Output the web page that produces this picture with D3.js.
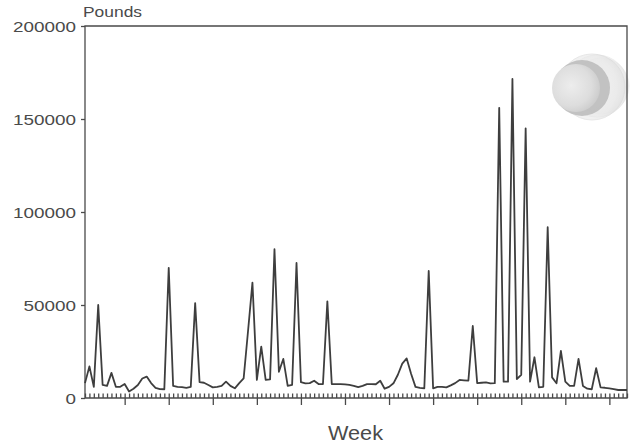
<!DOCTYPE html>
<html>
<head>
<meta charset="utf-8">
<script src="https://cdn.jsdelivr.net/npm/d3@7"></script>
<style>
  body { margin: 0; background: #ffffff; }
  svg { display: block; }
</style>
</head>
<body>
<svg id="chart" width="631" height="447"></svg>
<script>
// Weekly shipments, in pounds
const weeks = d3.range(1, 125);
const pounds = [
  8000, 17000, 6000, 50000, 7000, 6500, 13500, 6000, 6000, 7500,
  3500, 5000, 7000, 10500, 11500, 8000, 5500, 4800, 4700, 70000,
  6500, 6000, 5800, 5500, 6000, 51000, 8500, 8200, 7000, 5700,
  6000, 6500, 8800, 6500, 5200, 8000, 10500, 36000, 62000, 9700,
  27600, 9700, 10000, 80000, 14100, 21000, 6500, 7000, 72600, 8500,
  7900, 8000, 9300, 7500, 7500, 52000, 7500, 7500, 7500, 7300,
  7000, 6500, 5800, 6500, 7500, 7500, 7400, 9300, 5000, 6000,
  7900, 12500, 18500, 21300, 13000, 6000, 5500, 5200, 68300, 5200,
  6000, 6000, 5700, 6800, 8000, 9700, 9500, 9300, 38700, 8000,
  8200, 8400, 7900, 8000, 156000, 8800, 8800, 171500, 10200, 12400,
  145000, 8800, 21900, 5700, 6000, 91800, 11100, 7900, 25300, 8800,
  6500, 6500, 21000, 6500, 5000, 4700, 16000, 5700, 5500, 5200,
  4800, 4300, 4300, 4300
];
const yTicks = [0, 50000, 100000, 150000, 200000];
const majorWeeks = d3.range(10, 121, 10);
const yTitle = "Pounds";
const xTitle = "Week";

const svg = d3.select("#chart");
const box = { left: 85, right: 627, top: 26, bottom: 398 };
const ink = "#3e3e3e";
const axisInk = "#4a4a4a";
const textInk = "#4a4a4a";
const font = "'Liberation Sans', Arial, Helvetica, sans-serif";

const x = d3.scaleLinear().domain([1, 124]).range([box.left, box.right]);
const y = d3.scaleLinear().domain([0, 200000]).range([box.bottom, box.top]);

// --- shaded sphere ornament in the upper right ---
const defs = svg.append("defs");
const g1 = defs.append("radialGradient").attr("id", "ballBody")
  .attr("cx", "0.4").attr("cy", "0.45").attr("r", "0.65");
g1.append("stop").attr("offset", "0").attr("stop-color", "#ededed");
g1.append("stop").attr("offset", "0.65").attr("stop-color", "#dddddd");
g1.append("stop").attr("offset", "1").attr("stop-color", "#c9c9c9");
const g2 = defs.append("radialGradient").attr("id", "ballHalo")
  .attr("cx", "0.4").attr("cy", "0.5").attr("r", "0.6");
g2.append("stop").attr("offset", "0").attr("stop-color", "#f3f3f3");
g2.append("stop").attr("offset", "0.8").attr("stop-color", "#e8e8e8");
g2.append("stop").attr("offset", "1").attr("stop-color", "#dedede");

const orn = svg.append("g");
[[601, 86, 28, 0.35], [597, 86, 31, 0.45], [592, 87, 33, 0.6]].forEach(([cx, cy, r, o]) => {
  orn.append("circle").attr("cx", cx).attr("cy", cy).attr("r", r)
    .attr("fill", "url(#ballHalo)").attr("stroke", "#d8d8d8").attr("stroke-width", 1)
    .attr("opacity", o);
});
// crescent band
orn.append("circle").attr("cx", 582).attr("cy", 88).attr("r", 28)
  .attr("fill", "#bdbdbd").attr("opacity", 0.9);
orn.append("circle").attr("cx", 576).attr("cy", 88).attr("r", 24)
  .attr("fill", "url(#ballBody)");

// --- frame ---
svg.append("path")
  .attr("d", `M${box.left},${box.bottom}V${box.top}H${box.right}V${box.bottom}H${box.left}`)
  .attr("fill", "none").attr("stroke", axisInk).attr("stroke-width", 1.3);

// --- y axis ---
const yAxis = svg.append("g")
  .attr("transform", `translate(${box.left},0)`)
  .call(d3.axisLeft(y).tickValues(yTicks).tickSize(4).tickSizeOuter(0).tickPadding(5)
    .tickFormat(d3.format("d")));
yAxis.select(".domain").remove();
yAxis.selectAll(".tick line").attr("stroke", axisInk).attr("stroke-width", 1.3);
yAxis.selectAll(".tick text")
  .attr("fill", textInk)
  .style("font-family", font)
  .style("font-size", "14px")
  .attr("dy", "0.4em")
  .attr("textLength", function () { return this.textContent.length * 10.5; })
  .attr("lengthAdjust", "spacingAndGlyphs");

// --- x axis: weekly ticks inside, longer ticks every ten weeks ---
const xMinor = svg.append("g")
  .attr("transform", `translate(0,${box.bottom})`)
  .call(d3.axisBottom(x).tickValues(weeks).tickSize(-4.5).tickSizeOuter(0).tickFormat(""));
xMinor.select(".domain").remove();
xMinor.selectAll(".tick line").attr("stroke", axisInk).attr("stroke-width", 1.3);

const xMajor = svg.append("g")
  .attr("transform", `translate(0,${box.bottom})`)
  .call(d3.axisBottom(x).tickValues(majorWeeks).tickSize(7).tickSizeOuter(0).tickFormat(""));
xMajor.select(".domain").remove();
xMajor.selectAll(".tick line").attr("stroke", axisInk).attr("stroke-width", 1.3);

// --- series line ---
const line = d3.line()
  .x((d, i) => x(weeks[i]))
  .y(d => y(d));
svg.append("path")
  .datum(pounds)
  .attr("d", line)
  .attr("fill", "none")
  .attr("stroke", ink)
  .attr("stroke-width", 1.8)
  .attr("stroke-linejoin", "round");

// --- titles ---
svg.append("text")
  .attr("x", 83).attr("y", 16.5)
  .attr("fill", textInk)
  .style("font-family", font).style("font-size", "15px")
  .attr("textLength", 59).attr("lengthAdjust", "spacingAndGlyphs")
  .text(yTitle);

svg.append("text")
  .attr("x", 328).attr("y", 439.5)
  .attr("fill", textInk)
  .style("font-family", font).style("font-size", "21px")
  .attr("textLength", 55).attr("lengthAdjust", "spacingAndGlyphs")
  .text(xTitle);
</script>
</body>
</html>
